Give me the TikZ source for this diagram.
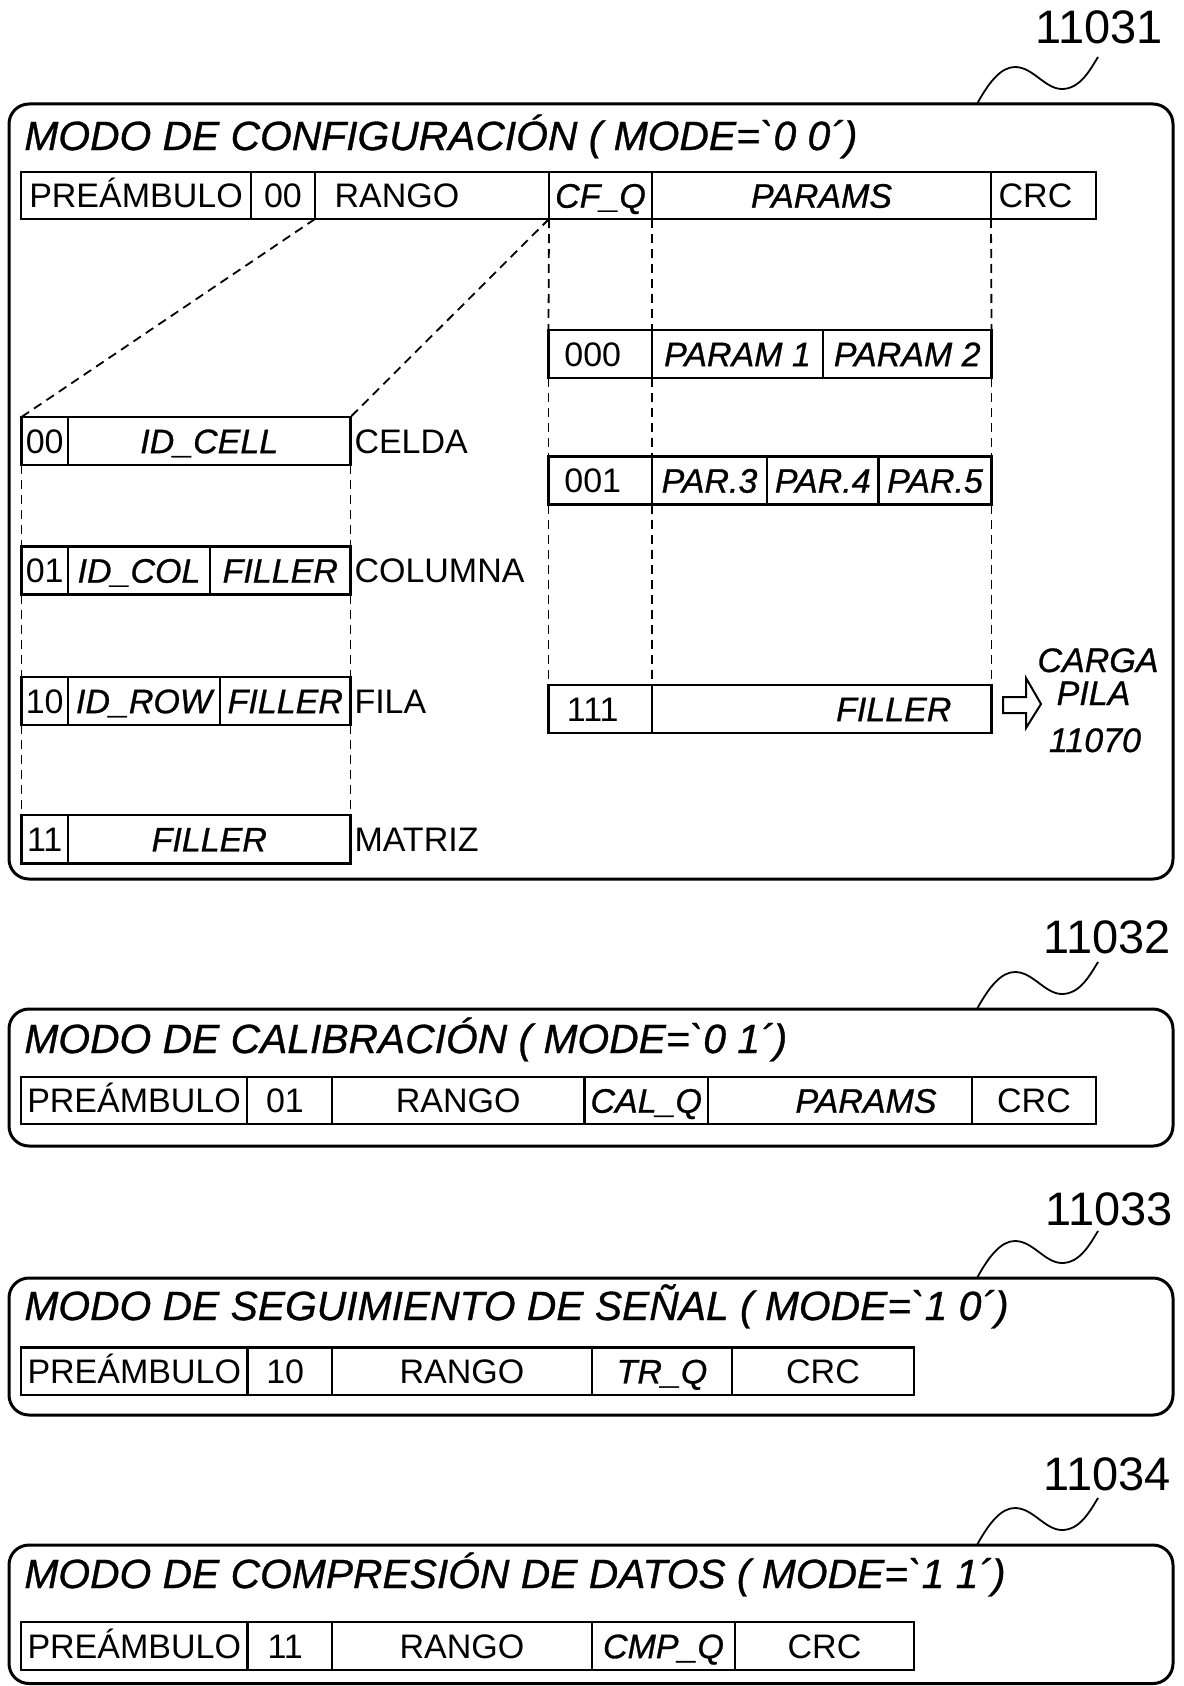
\documentclass[tikz,border=0pt]{standalone}
\usepackage{fontspec}
\newfontfamily\arialf{Liberation Sans}
\newfontfamily\arialit{Liberation Sans}[FakeBold=0.8]
\usetikzlibrary{calc}
\newcommand\rowfont{\arialf\fontsize{17pt}{20pt}\selectfont}
\newcommand\rowitfont{\arialit\itshape\fontsize{17pt}{20pt}\selectfont}
\newcommand\titlefont{\arialit\itshape\fontsize{20.4pt}{24pt}\selectfont}
\newcommand\numfont{\arialf\fontsize{23.5pt}{27pt}\selectfont}
\tikzset{
  cellbox/.style={draw, line width=1.35pt, fill=white, inner sep=0pt, outer sep=0pt, font=\rowfont, text height=12.2pt, text depth=0pt},
  cellit/.style={cellbox, font=\rowitfont},
  rowtext/.style={inner sep=0pt, outer sep=0pt, font=\rowfont, text height=12.2pt, text depth=0pt},
  rowit/.style={rowtext, font=\rowitfont},
  sidelabel/.style={rowtext, anchor=west, xshift=2pt},
  frame/.style={draw, line width=1.5pt, rounded corners=10pt},
  titletext/.style={inner sep=0pt, font=\titlefont, anchor=base west},
  refnum/.style={inner sep=0pt, font=\numfont, anchor=base},
  leader/.style={line width=0.9pt},
  guide/.style={line width=0.9pt, dash pattern=on 4.5pt off 3pt},
  hollowarrow/.style={draw, line width=1pt, fill=white, line join=miter}
}
\newcommand\fcell[7][cellbox]{%
  \node[#1, minimum width={(#4-#3)*0.5pt}, minimum height={(#6-#5)*0.5pt}] (#2) at ({(#3+#4)/2},{(#5+#6)/2}) {#7};}
\newcommand\squig[1]{\draw[leader] (977,#1) .. controls (990,{#1-24}) and (1002,{#1-37}) .. (1015,{#1-37}) .. controls (1033,{#1-37}) and (1045,{#1-15}) .. (1062,{#1-15}) .. controls (1080,{#1-15}) and (1090,{#1-34}) .. (1098,{#1-47});}
\begin{document}
\begin{tikzpicture}[x=0.5pt, y=-0.5pt]
\useasboundingbox (0,0) rectangle (1183,1686);

% ---------- frames ----------
\draw[frame] (9,104) rectangle (1173,879);
\draw[frame] (9,1009) rectangle (1173,1146);
\draw[frame] (9,1278) rectangle (1173,1415);
\draw[frame] (9,1545) rectangle (1173,1683.5);

% ---------- reference numbers and leaders ----------
\node[refnum] (n1) at (1099,44) {11031};
\node[refnum] (n2) at (1107,953) {11032};
\node[refnum] (n3) at (1109,1225) {11033};
\node[refnum] (n4) at (1107,1490) {11034};
\squig{104}
\squig{1009}
\squig{1278}
\squig{1545}

% ---------- titles ----------
\node[titletext] (t1) at (24,150) {MODO DE CONFIGURACIÓN ( MODE=`0 0´)};
\node[titletext] (t2) at (24,1053) {MODO DE CALIBRACIÓN ( MODE=`0 1´)};
\node[titletext] (t3) at (24,1320) {MODO DE SEGUIMIENTO DE SEÑAL ( MODE=`1 0´)};
\node[titletext] (t4) at (24,1588) {MODO DE COMPRESIÓN DE DATOS ( MODE=`1 1´)};

% ---------- configuration frame ----------
\fcell{a1pre}{21}{251}{172}{219}{PREÁMBULO}
\fcell{a1mode}{251}{315}{172}{219}{00}
\fcell{a1rng}{315}{549}{172}{219}{}
\node[rowtext] (a1rngt) at ([xshift=-17.5pt]a1rng.center) {RANGO};
\fcell[cellit]{a1cfq}{549}{652}{172}{219}{CF\_Q}
\fcell[cellit]{a1par}{652}{991}{172}{219}{PARAMS}
\fcell{a1crc}{991}{1096}{172}{219}{}
\node[rowtext] (a1crct) at ([xshift=-4pt]a1crc.center) {CRC};

% left stack (range types)
\fcell{c0a}{21.5}{68}{417}{465}{00}
\fcell[cellit]{c0b}{68}{350.5}{417}{465}{ID\_CELL}
\node[sidelabel] (l0) at (c0b.east) {CELDA};
\fcell{c1a}{21.5}{68}{546.5}{594.5}{01}
\fcell[cellit]{c1b}{68}{210}{546.5}{594.5}{ID\_COL}
\fcell[cellit]{c1c}{210}{350.5}{546.5}{594.5}{FILLER}
\node[sidelabel] (l1) at (c1c.east) {COLUMNA};
\fcell{c2a}{21.5}{68}{677}{725}{10}
\fcell[cellit]{c2b}{68}{220}{677}{725}{ID\_ROW}
\fcell[cellit]{c2c}{220}{350.5}{677}{725}{FILLER}
\node[sidelabel] (l2) at (c2c.east) {FILA};
\fcell{c3a}{21.5}{68}{815}{863.5}{11}
\fcell[cellit]{c3b}{68}{350.5}{815}{863.5}{FILLER}
\node[sidelabel] (l3) at (c3b.east) {MATRIZ};

% right stack (parameters)
\fcell{p0a}{548.5}{652}{330}{378}{}
\node[rowtext] (p0t) at ([xshift=-3.75pt]p0a.center) {000};
\fcell[cellit]{p0b}{652}{823}{330}{378}{PARAM 1}
\fcell[cellit]{p0c}{823}{991.5}{330}{378}{PARAM 2}
\fcell{p1a}{548.5}{652}{456.5}{504.5}{}
\node[rowtext] (p1t) at ([xshift=-3.75pt]p1a.center) {001};
\fcell[cellit]{p1b}{652}{767}{456.5}{504.5}{PAR.3}
\fcell[cellit]{p1c}{767}{878.5}{456.5}{504.5}{PAR.4}
\fcell[cellit]{p1d}{878.5}{991.5}{456.5}{504.5}{PAR.5}
\fcell{p2a}{548.5}{652}{685}{733}{}
\node[rowtext] (p2t) at ([xshift=-3.75pt]p2a.center) {111};
\fcell{p2b}{652}{991.5}{685}{733}{}
\node[rowit] (p2f) at ([xshift=36pt]p2b.center) {FILLER};

% dashed guides, left
\draw[guide] (a1rng.south west) -- (c0a.north west);
\draw[guide] (a1rng.south east) -- (c0b.north east);
\draw[guide] (c0a.south west) -- (c1a.north west);
\draw[guide] (c1a.south west) -- (c2a.north west);
\draw[guide] (c2a.south west) -- (c3a.north west);
\draw[guide] (c0b.south east) -- (c1c.north east);
\draw[guide] (c1c.south east) -- (c2c.north east);
\draw[guide] (c2c.south east) -- (c3b.north east);
% dashed guides, right
\draw[guide] (a1cfq.south west) -- (p0a.north west);
\draw[guide] (p0a.south west) -- (p1a.north west);
\draw[guide] (p1a.south west) -- (p2a.north west);
\draw[guide] (a1cfq.south east) -- (p0a.north east);
\draw[guide] (p0a.south east) -- (p1a.north east);
\draw[guide] (p1a.south east) -- (p2a.north east);
\draw[guide] (a1par.south east) -- (p0c.north east);
\draw[guide] (p0c.south east) -- (p1d.north east);
\draw[guide] (p1d.south east) -- (p2b.north east);

% hollow arrow and stack text
\coordinate (arr) at ([xshift=5.75pt]p2b.east);
\draw[hollowarrow] ($(arr)+(0,-12)$) -- ++(23,0) -- ++(0,-19) -- ($(arr)+(38,-5)$) -- ($(arr)+(23,19)$) -- ++(0,-15) -- ($(arr)+(0,4)$) -- cycle;
\node[rowit, anchor=base] (cg1) at (1098,672) {CARGA};
\node[rowit, anchor=base] (cg2) at (1093.5,705) {PILA};
\node[rowit, anchor=base] (cg3) at (1095,752) {11070};

% ---------- calibration frame ----------
\fcell{b1pre}{21}{247}{1077}{1124}{PREÁMBULO}
\fcell{b1mode}{247}{332}{1077}{1124}{}
\node[rowtext] (b1modet) at ([xshift=-2.25pt]b1mode.center) {01};
\fcell{b1rng}{332}{584.5}{1077}{1124}{RANGO}
\fcell[cellit]{b1q}{584.5}{708}{1077}{1124}{CAL\_Q}
\fcell{b1par}{708}{972}{1077}{1124}{}
\node[rowit] (b1part) at ([xshift=13pt]b1par.center) {PARAMS};
\fcell{b1crc}{972}{1096}{1077}{1124}{CRC}

% ---------- tracking frame ----------
\fcell{d1pre}{21}{247.5}{1347.5}{1395}{PREÁMBULO}
\fcell{d1mode}{247.5}{332}{1347.5}{1395}{}
\node[rowtext] (d1modet) at ([xshift=-2.25pt]d1mode.center) {10};
\fcell{d1rng}{332}{592}{1347.5}{1395}{RANGO}
\fcell[cellit]{d1q}{592}{732}{1347.5}{1395}{TR\_Q}
\fcell{d1crc}{732}{914}{1347.5}{1395}{CRC}

% ---------- compression frame ----------
\fcell{e1pre}{21}{247.5}{1622}{1670}{PREÁMBULO}
\fcell{e1mode}{247.5}{332}{1622}{1670}{}
\node[rowtext] (e1modet) at ([xshift=-2.25pt]e1mode.center) {11};
\fcell{e1rng}{332}{592}{1622}{1670}{RANGO}
\fcell[cellit]{e1q}{592}{735}{1622}{1670}{CMP\_Q}
\fcell{e1crc}{735}{914}{1622}{1670}{CRC}
\end{tikzpicture}
\end{document}
